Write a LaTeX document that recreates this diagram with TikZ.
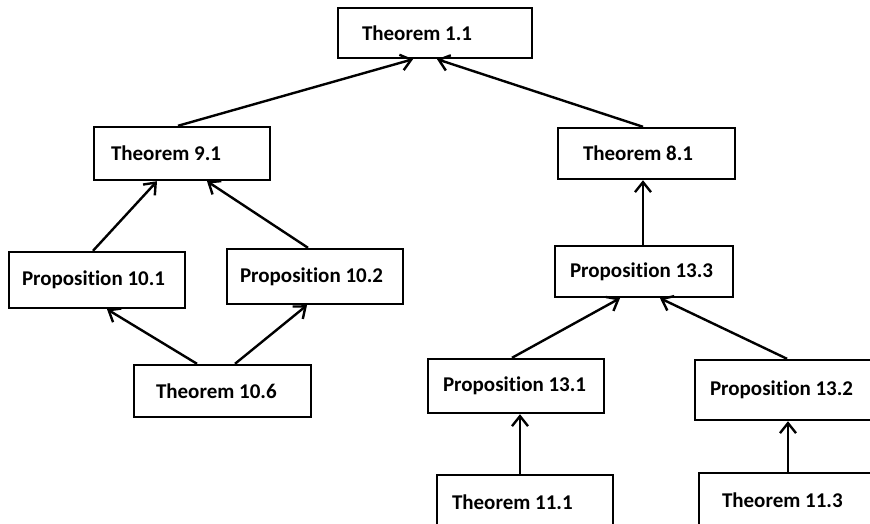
\documentclass[tikz,border=0pt]{standalone}
\usepackage{fontspec}
\setmainfont[Ligatures=NoCommon]{Carlito}
\usepackage{tikz}
\usetikzlibrary{arrows.meta}

\begin{document}
\begin{tikzpicture}[x=1pt,y=-1pt,
    box/.style={draw,line width=2.4pt,align=flush left,minimum height=53pt,
        inner ysep=0pt,font=\fontsize{21}{24}\selectfont\bfseries},
    arr/.style={line width=2.4pt,-{Straight Barb[length=10pt,width=16pt,line width=2.4pt]}}]
    % Fix the page size
    \useasboundingbox (0,0) rectangle (870,524);

    % Draw the boxes
    \node[box,minimum height=50pt,inner xsep=24pt,text width=146pt] (t11) at (435,33) {Theorem 1.1};
    \node[box,inner xsep=17pt,text width=142pt] (t91) at (182,153.5) {Theorem 9.1};
    \node[box,minimum height=51pt,inner xsep=25pt,text width=127pt] (t81) at (646.5,153.5) {Theorem 8.1};
    \node[box,minimum height=56pt,inner xsep=13pt,text width=150pt] (p101) at (97,280) {Proposition 10.1};
    \node[box,minimum height=55pt,inner xsep=13pt,text width=150pt] (p102) at (315,276.5) {Proposition 10.2};
    \node[box,minimum height=51pt,inner xsep=15pt,text width=148pt] (p133) at (644,271.5) {Proposition 13.3};
    \node[box,minimum height=52pt,inner xsep=22pt,text width=133pt] (t106) at (222.5,391) {Theorem 10.6};
    \node[box,minimum height=54pt,inner xsep=15pt,text width=146pt] (p131) at (516,386) {Proposition 13.1};
    \node[box,minimum height=60pt,inner xsep=15pt,text width=146pt] (p132) at (783,390) {Proposition 13.2};
    \node[box,minimum height=54pt,inner xsep=15pt,text width=146pt] (t111) at (525,502) {Theorem 11.1};
    \node[box,minimum height=54pt,inner xsep=23pt,text width=130pt] (t113) at (787,500) {Theorem 11.3};

    % Draw the arrows
    \draw[arr] ([xshift=-4pt]t91.north) -- ([xshift=-22pt]t11.south);
    \draw[arr] ([xshift=-3.5pt]t81.north) -- ([xshift=2pt]t11.south);
    \draw[arr] ([xshift=-4pt]p101.north) -- ([xshift=-25pt]t91.south);
    \draw[arr] ([xshift=-7pt]p102.north) -- ([xshift=25pt]t91.south);
    \draw[arr] ([xshift=-25.5pt]t106.north) -- ([xshift=10pt]p101.south);
    \draw[arr] ([xshift=12.5pt]t106.north) -- ([xshift=-8pt]p102.south);
    \draw[arr] ([xshift=-1pt]p133.north) -- ([xshift=-3.5pt]t81.south);
    \draw[arr] ([xshift=-4pt]p131.north) -- ([xshift=-24pt]p133.south);
    \draw[arr] ([xshift=4pt]p132.north) -- ([xshift=16pt]p133.south);
    \draw[arr] ([xshift=-5pt]t111.north) -- ([xshift=4pt]p131.south);
    \draw[arr] ([xshift=1pt]t113.north) -- ([xshift=5pt]p132.south);
\end{tikzpicture}
\end{document}
